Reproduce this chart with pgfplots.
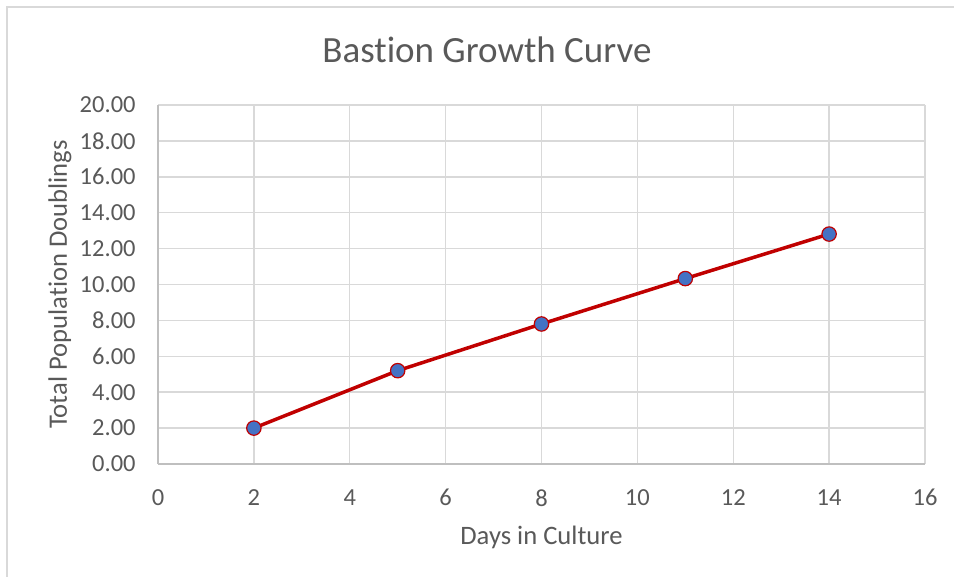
\documentclass[border=0pt]{standalone}
\usepackage{fontspec}
\setmainfont{Carlito}[Ligatures=NoCommon]
\usepackage{pgfplots}
\pgfplotsset{compat=1.18}
\definecolor{txt}{HTML}{595959}
\definecolor{gridc}{HTML}{D9D9D9}
\definecolor{axc}{HTML}{BFBFBF}
\definecolor{linec}{HTML}{C00000}
\definecolor{markc}{HTML}{4472C4}
\begin{document}
\begin{tikzpicture}
\useasboundingbox (-79pt,-56.5pt) rectangle (398pt,232pt);
\draw[gridc, line width=1pt] (-75.5pt,-60pt) -- (-75.5pt,228.5pt) -- (400pt,228.5pt);
\begin{axis}[
  at={(0pt,0pt)}, anchor=south west,
  scale only axis,
  width=383.5pt, height=179.5pt,
  xmin=0, xmax=16, ymin=0, ymax=20,
  xtick={0,2,...,16}, ytick={0,2,...,20},
  axis x line*=bottom, axis y line*=left,
  axis line style={axc, line width=1pt, -},
  major tick length=0pt,
  grid=major,
  major grid style={gridc, line width=0.75pt},
  /pgf/number format/assume math mode=true,
  yticklabel={\pgfmathprintnumber[fixed, fixed zerofill, precision=2]{\tick}},
  tick label style={font=\fontsize{12.25pt}{14pt}\selectfont, text=txt},
  y tick label style={inner sep=0pt, anchor=east, xshift=-11pt},
  x tick label style={inner sep=0pt, anchor=north, yshift=-12.5pt},
  title={Bastion Growth Curve},
  title style={at={(axis description cs:0.4289,1.1198)}, anchor=center, font=\fontsize{18.5pt}{22pt}\selectfont, text=txt},
  xlabel={Days in Culture},
  ylabel={Total Population Doublings},
  every axis x label/.style={at={(axis description cs:0.5,-0.2035)}, anchor=center, font=\fontsize{13.3pt}{16pt}\selectfont, text=txt},
  every axis y label/.style={at={(axis description cs:-0.1278,0.5)}, anchor=center, rotate=90, font=\fontsize{13.3pt}{16pt}\selectfont, text=txt},
  clip=false,
]
\addplot[linec, line width=1.75pt, mark=*, mark size=3.6pt,
  mark options={fill=markc, draw=linec, line width=0.6pt}]
  coordinates {(2,2.00) (5,5.20) (8,7.80) (11,10.33) (14,12.81)};
\end{axis}
\end{tikzpicture}
\end{document}
